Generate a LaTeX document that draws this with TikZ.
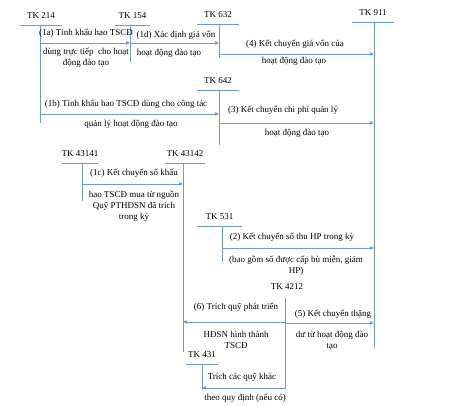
\documentclass[tikz,border=0pt]{standalone}
\usepackage{fontspec}
\setmainfont{Liberation Serif}
\usepackage{xcolor}
\usepackage{tikz}
\usetikzlibrary{arrows.meta}
\definecolor{acctblue}{HTML}{6F9AC9}

\begin{document}
\begin{tikzpicture}[x=1pt,y=-1pt,
  font=\fontsize{9}{11}\selectfont,
  acct/.style={draw=acctblue,line width=0.8pt},
  flow/.style={acct,-{Triangle[length=4pt,width=3.4pt]}},
  note/.style={inner sep=0pt,align=center}]
\useasboundingbox (0,0) rectangle (449,406);
% T accounts: number / vertical x / top y / left / right / bottom
\foreach \n/\x/\y/\l/\r/\b in {214/40/25/20/62/123, 154/130/25/115/150/62,
  632/219/24/197/239/58, 911/374/22/352/394/348, 642/219/90/197/239/145,
  43141/82/163/62/98/201, 43142/183/163/165/205/352, 531/222/226/197/242/262,
  431/202/364/186/218/390}{
  \draw[acct] (\l,\y) -- (\r,\y);
  \node[note] (tk\n) at ({(\l+\r)/2},\y-9) {TK \n};
  \coordinate (v\n) at (\x,\y);
  \coordinate (e\n) at (\x,\b);
  \draw[acct] (v\n) -- (e\n);
}
\node[note] (tk4212) at (287,287) {TK 4212};
\coordinate (v4212) at (285,298);
\coordinate (e4212) at (285,389);
\draw[acct] (v4212) -- (e4212);

% entries
\draw[flow] (v214 |- 0,43) -- (v154 |- 0,43);
\node[note] (n1a) at (86,33) {(1a) Tính khấu hao TSCĐ};
\node[note] (m1a) at (86,58) {dùng trực tiếp\ \ cho hoạt\\động đào tạo};

\draw[flow] (v154 |- 0,43) -- (v632 |- 0,43);
\node[note] (n1d) at (176,35) {(1d) Xác định giá vốn};
\node[note] (m1d) at (169,53) {hoạt động đào tạo};

\draw[flow] (v632 |- 0,54) -- (v911 |- 0,54);
\node[note] (n4) at (295,44) {(4) Kết chuyển giá vốn của};
\node[note] (m4) at (294,61) {hoạt động đào tạo};

\draw[flow] (v214 |- 0,114) -- (v642 |- 0,114);
\node[note] (n1b) at (126,104) {(1b) Tính khấu hao TSCĐ dùng cho công tác};
\node[note] (m1b) at (131,124) {quản lý hoạt động đào tạo};

\draw[flow] (v642 |- 0,123) -- (v911 |- 0,123);
\node[note] (n3) at (283,110) {(3) Kết chuyển chi phí quản lý};
\node[note] (m3) at (297,133) {hoạt động đào tạo};

\draw[flow] (v43141 |- 0,184) -- (v43142 |- 0,184);
\node[note] (n1c) at (134,173) {(1c) Kết chuyển số khấu};
\node[note] (m1c) at (134,206) {hao TSCĐ mua từ nguồn\\Quỹ PTHĐSN đã trích\\trong kỳ};

\draw[flow] (v531 |- 0,248) -- (v911 |- 0,248);
\node[note] (n2) at (292,237) {(2) Kết chuyển số thu HP trong kỳ};
\node[note] (m2) at (296,266) {(bao gồm số được cấp bù miễn, giảm\\HP)};

\draw[flow] (v4212 |- 0,322) -- (v43142 |- 0,322);
\node[note] (n6) at (236,307) {(6) Trích quỹ phát triển};
\node[note] (m6) at (236,340) {HĐSN hình thành\\TSCĐ};

\draw[flow] (v4212 |- 0,323) -- (v911 |- 0,323);
\node[note] (n5) at (333,314) {(5) Kết chuyển thặng};
\node[note] (m5) at (332,341) {dư từ hoạt động đào\\tạo};

\draw[flow] (v4212 |- 0,388) -- (v431 |- 0,388);
\node[note] (n7) at (242,377) {Trích các quỹ khác};
\node[note] (m7) at (245,398) {theo quy định (nếu có)};
\end{tikzpicture}
\end{document}
